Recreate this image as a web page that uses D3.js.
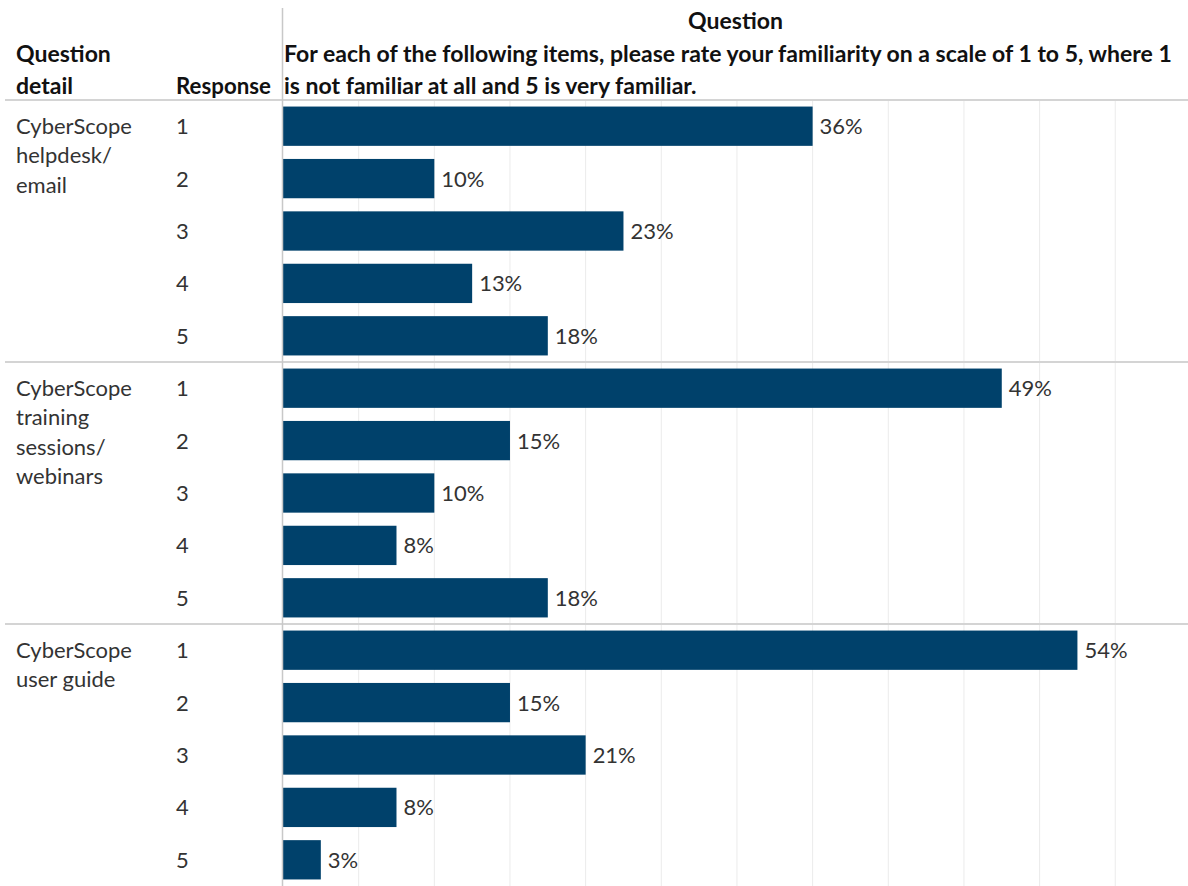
<!DOCTYPE html>
<html>
<head>
<meta charset="utf-8">
<script src="https://cdn.jsdelivr.net/npm/d3@7"></script>
<style>
  html, body { margin: 0; padding: 0; background: #fff; }
  svg { display: block; }
</style>
</head>
<body>
<svg id="chart" width="1188" height="886"></svg>
<script>
// ---- data ----
const questionTitle = "Question";
const questionLines = [
  "For each of the following items, please rate your familiarity on a scale of 1 to 5, where 1",
  "is not familiar at all and 5 is very familiar."
];
const detailHeaderLines = ["Question", "detail"];
const responseHeader = "Response";
const questionDetails = ["CyberScope helpdesk/email", "CyberScope training sessions/webinars", "CyberScope user guide"];
const questionDetailLines = [
  ["CyberScope", "helpdesk/", "email"],
  ["CyberScope", "training", "sessions/", "webinars"],
  ["CyberScope", "user guide"]
];
const responses = ["1", "2", "3", "4", "5"];
const helpdeskCounts = [14, 4, 9, 5, 7];
const trainingCounts = [19, 6, 4, 3, 7];
const userGuideCounts = [21, 6, 8, 3, 1];
const respondentsPerItem = 39;

// ---- build rows ----
const countsByItem = [helpdeskCounts, trainingCounts, userGuideCounts];
const rows = [];
questionDetails.forEach((q, gi) => {
  responses.forEach((r, ri) => {
    rows.push({ key: gi + "-" + r, group: gi, response: r, count: countsByItem[gi][ri] });
  });
});

const W = 1188, H = 886;
const plotLeft = 283, plotTop = 100, plotBottom = 886;
const svg = d3.select("#chart");
const boldFont = "Lato, 'Open Sans', sans-serif";
const textColor = "#333333";

const x = d3.scaleLinear().domain([0, 24]).range([plotLeft, plotLeft + 24 * 37.83]);
const y = d3.scaleBand().domain(rows.map(d => d.key)).range([plotTop, plotBottom])
  .paddingInner(0.25).paddingOuter(0.125);

// gridlines
svg.append("g").selectAll("line")
  .data(x.ticks(12).filter(t => t > 0 && t < 24))
  .join("line")
  .attr("x1", d => x(d)).attr("x2", d => x(d))
  .attr("y1", plotTop).attr("y2", plotBottom)
  .attr("stroke", "#ebebeb").attr("stroke-width", 1);

// bars
svg.append("g").selectAll("rect")
  .data(rows)
  .join("rect")
  .attr("x", x(0))
  .attr("y", d => y(d.key))
  .attr("width", d => x(d.count) - x(0))
  .attr("height", y.bandwidth())
  .attr("fill", "#00416b");

// value labels
const pct = d3.format(".0%");
svg.append("g").selectAll("text")
  .data(rows)
  .join("text")
  .attr("class", "val")
  .attr("x", d => x(d.count) + 7)
  .attr("y", d => y(d.key) + y.bandwidth() / 2)
  .attr("dy", "0.36em")
  .attr("font-family", boldFont)
  .attr("fill", textColor)
  .text(d => pct(d.count / respondentsPerItem));

// response labels
svg.append("g").selectAll("text")
  .data(rows)
  .join("text")
  .attr("class", "resp")
  .attr("x", 176)
  .attr("y", d => y(d.key) + y.bandwidth() / 2)
  .attr("dy", "0.36em")
  .attr("font-family", boldFont)
  .attr("fill", textColor)
  .text(d => d.response);

// question detail labels
const groupStep = y.step() * responses.length;
questionDetailLines.forEach((lines, gi) => {
  const firstKey = gi + "-" + responses[0];
  const cy = y(firstKey) + y.bandwidth() / 2;
  const t = svg.append("text")
    .attr("class", "detail")
    .attr("x", 16)
    .attr("y", cy)
    .attr("font-family", boldFont)
    .attr("fill", textColor);
  lines.forEach((ln, i) => {
    t.append("tspan").attr("x", 16).attr("dy", i === 0 ? "0.36em" : "1.33em").text(ln);
  });
});

// separators
const sepYs = [plotTop].concat(questionDetails.slice(1).map((q, i) => plotTop + groupStep * (i + 1)));
svg.append("g").selectAll("line")
  .data(sepYs)
  .join("line")
  .attr("x1", 5).attr("x2", W)
  .attr("y1", d => d).attr("y2", d => d)
  .attr("stroke", "#d4d4d4").attr("stroke-width", 2);

// vertical axis line
svg.append("line")
  .attr("x1", plotLeft - 0.5).attr("x2", plotLeft - 0.5)
  .attr("y1", 8).attr("y2", H)
  .attr("stroke", "#c8c8c8").attr("stroke-width", 1.5);

// headers
const hdr = svg.append("g").attr("font-family", boldFont).attr("font-weight", "bold").attr("fill", "#111");
hdr.append("text").attr("class", "hd").attr("x", (plotLeft + W) / 2).attr("y", 29)
  .attr("text-anchor", "middle").text(questionTitle);
questionLines.forEach((ln, i) => {
  hdr.append("text").attr("class", "hd qline").attr("x", plotLeft + 1).attr("y", 62 + i * 32).text(ln);
});
detailHeaderLines.forEach((ln, i) => {
  hdr.append("text").attr("class", "hd").attr("x", 16).attr("y", 62 + i * 32).text(ln);
});
const respHd = hdr.append("text").attr("class", "hd resphd").attr("x", 176).attr("y", 94).text(responseHeader);

// fit font sizes to reference widths
function fit(sel, refNode, target) {
  sel.attr("font-size", 20);
  const w = refNode.getComputedTextLength();
  const fs = 20 * target / w;
  sel.attr("font-size", fs);
  return fs;
}
const qline = hdr.selectAll(".qline");
fit(hdr.selectAll(".hd"), qline.node(), 888);
fit(respHd, respHd.node(), 95);
const regular = svg.selectAll(".val, .resp, .detail");
const detailNode = svg.select(".detail tspan").node();
regular.attr("font-size", 20);
const w0 = detailNode.getComputedTextLength();
regular.attr("font-size", 20 * 116 / w0);
</script>
</body>
</html>
